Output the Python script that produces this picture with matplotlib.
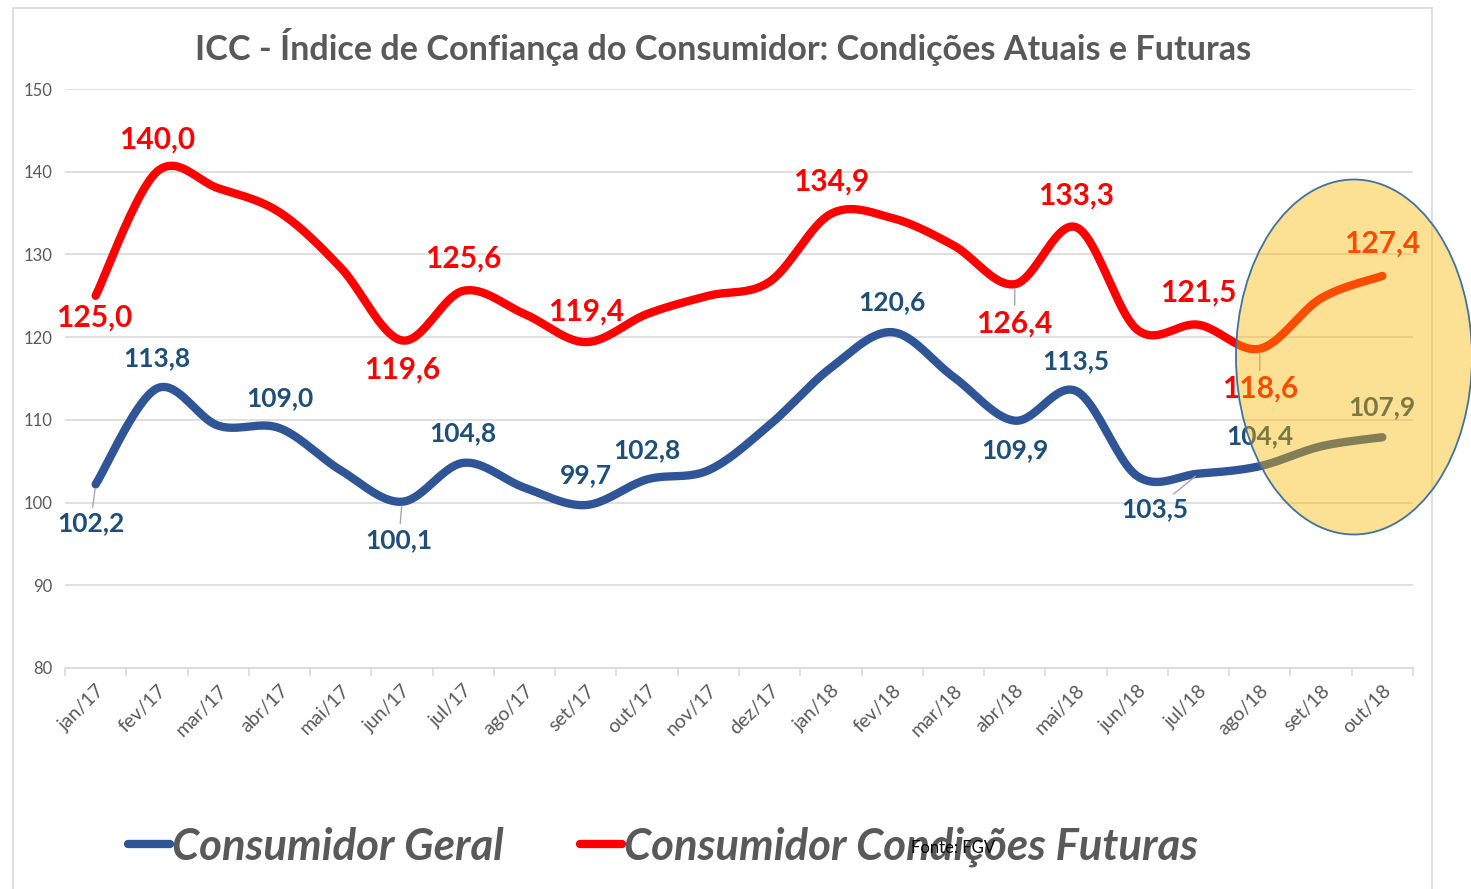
import matplotlib.pyplot as plt
import numpy as np
from matplotlib.patches import Ellipse, Rectangle
from matplotlib.lines import Line2D

plt.rcParams['font.family'] = ['Lato', 'DejaVu Sans']

# Dados
meses = ['jan/17', 'fev/17', 'mar/17', 'abr/17', 'mai/17', 'jun/17', 'jul/17', 'ago/17',
         'set/17', 'out/17', 'nov/17', 'dez/17', 'jan/18', 'fev/18', 'mar/18', 'abr/18',
         'mai/18', 'jun/18', 'jul/18', 'ago/18', 'set/18', 'out/18']
geral = [102.2, 113.8, 109.3, 109.0, 103.9, 100.1, 104.8, 101.8, 99.7, 102.8, 103.9,
         109.4, 116.3, 120.6, 115.2, 109.9, 113.5, 103.2, 103.5, 104.4, 106.8, 107.9]
futuras = [125.0, 140.0, 138.0, 135.1, 128.4, 119.6, 125.6, 122.8, 119.4, 122.8, 125.0,
           126.7, 134.9, 134.4, 131.1, 126.4, 133.3, 120.9, 121.5, 118.6, 124.7, 127.4]

# rótulos: indice -> (dx, dy, leader) em pixels
rot_geral = {0: (-5, -39, True), 1: (0, 30, False), 3: (0, 30, False), 5: (-3, -38, True),
             6: (0, 30, False), 8: (0, 30, False), 9: (0, 29, False), 13: (0, 30, False),
             15: (0, -29, False), 16: (0, 30, False), 18: (-44, -36, True), 19: (0, 30, False),
             21: (0, 30, False)}
rot_fut = {0: (-1, -22, False), 1: (0, 32, False), 5: (0, -29, False), 6: (0, 32, False),
           8: (0, 31, False), 12: (0, 32, False), 15: (0, -39, True), 16: (0, 32, False),
           18: (0, 32, False), 19: (0, -40, True), 21: (0, 32, False)}

azul = '#2F5597'
azul_txt = '#1F4E79'
vermelho = '#FF0000'
cinza = '#595959'


def suavizar(y, n=24):
    # curva suavizada tipo Excel (bezier catmull-rom)
    p = np.column_stack([np.arange(len(y)), y]).astype(float)
    pts = []
    for i in range(len(p) - 1):
        p0 = p[i - 1] if i > 0 else p[i]
        p3 = p[i + 2] if i + 2 < len(p) else p[i + 1]
        c1 = p[i] + (p[i + 1] - p0) / 6
        c2 = p[i + 1] - (p3 - p[i]) / 6
        t = np.linspace(0, 1, n)[:, None]
        seg = ((1 - t) ** 3) * p[i] + 3 * ((1 - t) ** 2) * t * c1 + 3 * (1 - t) * t ** 2 * c2 + t ** 3 * p[i + 1]
        pts.append(seg if i == 0 else seg[1:])
    pts = np.vstack(pts)
    return pts[:, 0], pts[:, 1]


fig = plt.figure(figsize=(14.71, 8.89), dpi=100)
fig.add_artist(Rectangle((13 / 1471, -0.1), (1432 - 13) / 1471, 1.1 - 8 / 889,
                         transform=fig.transFigure, fill=False, edgecolor='#D9D9D9', lw=1.2))
ax = fig.add_axes([65 / 1471, 1 - 668 / 889, (1413 - 65) / 1471, (668 - 89) / 889])

x = np.arange(len(meses))
xs, ys = suavizar(geral)
ax.plot(xs, ys, color=azul, lw=6, solid_capstyle='round', label='Consumidor Geral', zorder=3)
xs, ys = suavizar(futuras)
ax.plot(xs, ys, color=vermelho, lw=6, solid_capstyle='round', label='Consumidor Condições Futuras', zorder=3)


def rotular(vals, rot, cor, tam):
    for i, (dx, dy, lead) in rot.items():
        txt = f'{vals[i]:.1f}'.replace('.', ',')
        kw = {}
        if lead:
            kw['arrowprops'] = dict(arrowstyle='-', color='#A6A6A6', lw=1, shrinkA=1, shrinkB=3)
        ax.annotate(txt, (x[i], vals[i]), xytext=(dx, dy), textcoords='offset pixels',
                    ha='center', va='center', color=cor, fontsize=tam, fontweight='bold', zorder=4, **kw)


rotular(futuras, rot_fut, vermelho, 21.5)
rotular(geral, rot_geral, azul_txt, 19)

ax.set_xlim(-0.5, len(meses) - 0.5)
ax.set_ylim(80, 150)
ax.set_yticks(range(80, 151, 10))
ax.set_xticks(x)
ax.set_xticklabels(meses, rotation=45, ha='right', rotation_mode='anchor', fontsize=14, color=cinza)
ax.set_xticks(np.arange(-0.5, len(meses), 1), minor=True)
ax.tick_params(axis='x', which='major', length=0, pad=10)
ax.tick_params(axis='x', which='minor', length=6, color='#D9D9D9', width=1.2)
ax.tick_params(axis='y', length=0, pad=9, labelsize=12, labelcolor=cinza)
ax.grid(axis='y', color='#D9D9D9', lw=1.2)
ax.set_axisbelow(True)
for s in ['top', 'right', 'left']:
    ax.spines[s].set_visible(False)
ax.spines['bottom'].set_color('#D9D9D9')
ax.spines['bottom'].set_linewidth(1.2)

fig.text(723 / 1471, 1 - 47 / 889, 'ICC - Índice de Confiança do Consumidor: Condições Atuais e Futuras',
         ha='center', va='center', fontsize=24.6, fontweight='bold', color=cinza)

# destaque
fig.add_artist(Ellipse((1354 / 1471, 1 - 357 / 889), 236 / 1471, 355 / 889, transform=fig.transFigure,
                       facecolor='#FAB700', alpha=0.42, edgecolor='none', zorder=10))
fig.add_artist(Ellipse((1354 / 1471, 1 - 357 / 889), 236 / 1471, 355 / 889, transform=fig.transFigure,
                       facecolor='none', edgecolor='#41719C', lw=1.3, zorder=11))

hs = [Line2D([], [], color=azul, lw=6, solid_capstyle='round'),
      Line2D([], [], color=vermelho, lw=6, solid_capstyle='round')]
leg = fig.legend(hs, ['Consumidor Geral', 'Consumidor Condições Futuras'], loc='center',
                 bbox_to_anchor=(663 / 1471, 1 - 847 / 889), ncol=2, frameon=False,
                 handlelength=0.95, handletextpad=0.05, columnspacing=1.75,
                 prop=dict(size=31.5, weight='bold', style='italic'))
for t in leg.get_texts():
    t.set_color(cinza)

fig.text(911 / 1471, 1 - 848 / 889, 'Fonte: FGV', ha='left', va='center', fontsize=12, color='black', zorder=12)

fig.savefig('out.png', dpi=100)
